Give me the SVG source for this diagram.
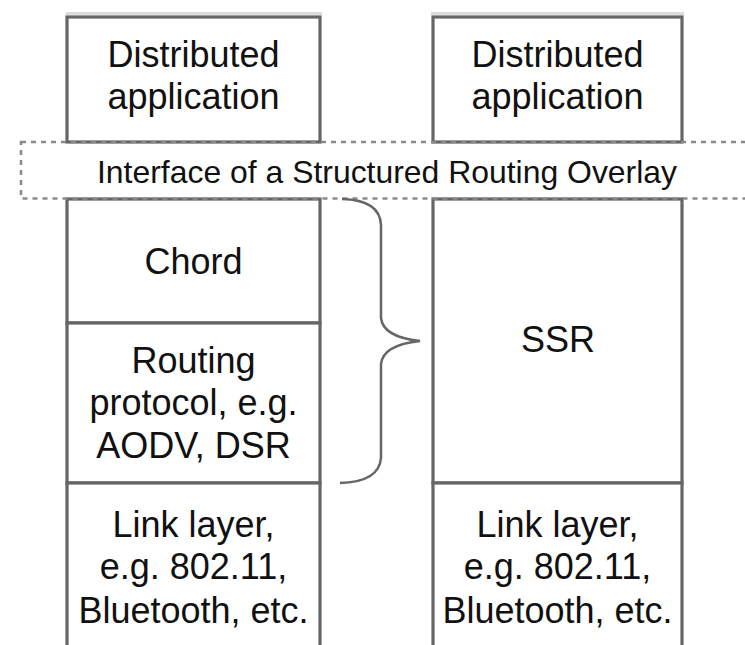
<svg xmlns="http://www.w3.org/2000/svg" width="745" height="645" viewBox="0 0 745 645">
<style>
.box{fill:#fff;stroke:#666;stroke-width:3.2}
.band{stroke:#dcdcdc;stroke-width:3;fill:none}
.dot{fill:none;stroke:#8a8a8a;stroke-width:2.5;stroke-dasharray:5 5}
.brace{fill:none;stroke:#666;stroke-width:2.5}
text{font-family:"Liberation Sans",Arial,sans-serif;font-size:36px;fill:#111;text-anchor:middle}
.ifc{font-size:32px}
</style>
<rect width="745" height="645" fill="#fff"/>
<g id="left-app">
<line class="band" x1="66" y1="13.5" x2="322" y2="13.5"/>
<rect class="box" x="67" y="17" width="253" height="125"/>
<text x="193.5" y="67">Distributed</text>
<text x="193.5" y="109">application</text>
</g>
<g id="right-app">
<line class="band" x1="431" y1="13.5" x2="684" y2="13.5"/>
<rect class="box" x="433" y="17" width="249" height="125"/>
<text x="557.5" y="67">Distributed</text>
<text x="557.5" y="109">application</text>
</g>
<g id="chord">
<rect class="box" x="67" y="199" width="253" height="124"/>
<text x="193.5" y="274">Chord</text>
</g>
<g id="routing">
<rect class="box" x="67" y="323" width="253" height="160"/>
<text x="193.5" y="373">Routing</text>
<text x="193.5" y="415">protocol, e.g.</text>
<text x="193.5" y="458">AODV, DSR</text>
</g>
<g id="left-link">
<rect class="box" x="67" y="483" width="253" height="175"/>
<text x="193.5" y="537">Link layer,</text>
<text x="193.5" y="579">e.g. 802.11,</text>
<text x="193.5" y="623">Bluetooth, etc.</text>
</g>
<g id="ssr">
<rect class="box" x="433" y="199" width="249" height="284"/>
<text x="558" y="352">SSR</text>
</g>
<g id="right-link">
<rect class="box" x="433" y="483" width="249" height="175"/>
<text x="557.5" y="537">Link layer,</text>
<text x="557.5" y="579">e.g. 802.11,</text>
<text x="557.5" y="623">Bluetooth, etc.</text>
</g>
<g id="interface">
<rect class="dot" x="21" y="142" width="740" height="56.5"/>
<text class="ifc" x="387" y="183" textLength="580" lengthAdjust="spacingAndGlyphs">Interface of a Structured Routing Overlay</text>
</g>
<g id="connectors">
<path class="brace" d="M342,199 Q380,200 381,225 L381,318 Q383,337 420,341 Q383,345 381,364 L381,458 Q379,482 340,483"/>
</g>
</svg>
